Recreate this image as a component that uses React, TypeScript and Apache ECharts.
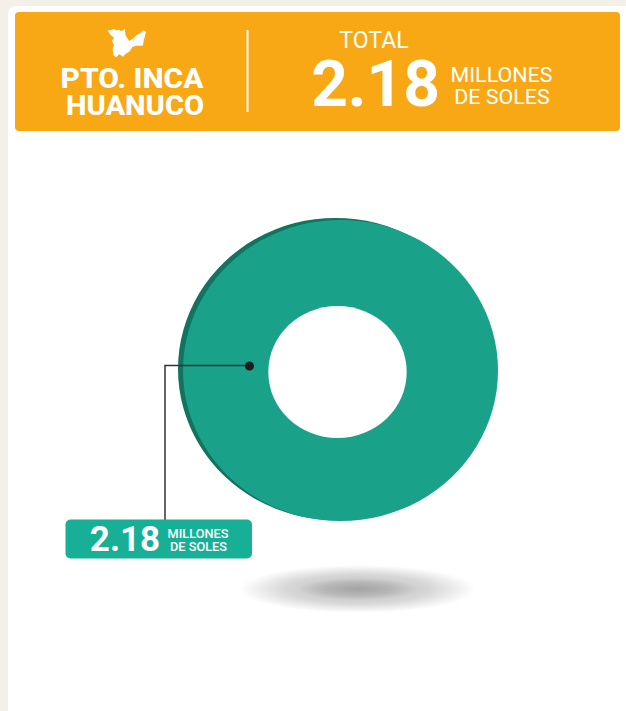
import React, { useEffect, useRef } from "react";
import * as echarts from "echarts";

const regionLines = ["PTO. INCA", "HUANUCO"];
const totalLabel = "TOTAL";
const unitLines = ["MILLONES", "DE SOLES"];
const sliceNames = ["Total"];
const sliceValues = [2.18];
const sliceColors = ["#1aa189"];
const sliceEdgeColors = ["#12735f"];

const FONT = "Roboto, sans-serif";

function label(text: string, x: number, y: number, size: number, weight: number, sx = 1, align = "center") {
  return {
    type: "text",
    x,
    y,
    scaleX: sx,
    z: 20,
    style: {
      text,
      x: 0,
      y: 0,
      fill: "#ffffff",
      textAlign: align,
      textVerticalAlign: "middle",
      font: `${weight} ${size}px ${FONT}`,
    },
  };
}

const mapIcon = [
  [52,46],[62,46],[70,42],[80,46],[88,44],[92,48],[100,46],[104,40],[107,62],[118,78],[132,68],[140,60],[150,55],
  [160,46],[168,50],[163,70],[158,92],[140,92],[128,95],[118,110],[105,118],[100,125],[88,118],[78,127],
  [70,120],[68,100],[72,90],[66,78],[72,68],[62,60],
].map(([a, b]) => [90 + a / 3, 15 + b / 3]);

export default function App() {
  const ref = useRef<HTMLDivElement>(null);
  useEffect(() => {
    const chart = echarts.init(ref.current!, null, { renderer: "svg" });
    const total = sliceValues.reduce((s, v) => s + v, 0);
    const renderItem = (params: any, api: any) => {
      const v = api.value(0) as number;
      const end = (v / total) * Math.PI * 2;
      return {
        type: "group",
        children: [
          {
            type: "sector",
            x: 335.5,
            y: 369,
            scaleY: 151 / 157.5,
            shape: { cx: 0, cy: 0, r: 157.5, r0: 0, startAngle: 0, endAngle: end },
            style: { fill: sliceEdgeColors[params.dataIndex] },
          },
          {
            type: "sector",
            x: 340.5,
            y: 370.5,
            scaleY: 150.5 / 157.5,
            shape: { cx: 0, cy: 0, r: 157.5, r0: 0, startAngle: 0, endAngle: end },
            style: { fill: sliceColors[params.dataIndex] },
          },
          {
            type: "ellipse",
            shape: { cx: 337.5, cy: 372, rx: 69.2, ry: 66 },
            style: { fill: "#ffffff" },
          },
        ],
      };
    };
    const shadow = (rx: number, ry: number, a: number) => ({
      type: "ellipse",
      shape: { cx: 358, cy: 589, rx, ry },
      z: 1,
      style: {
        fill: new echarts.graphic.RadialGradient(0.5, 0.5, 0.5, [
          { offset: 0, color: `rgba(120,120,120,${a})` },
          { offset: 0.6, color: `rgba(120,120,120,${a * 0.6})` },
          { offset: 1, color: "rgba(120,120,120,0)" },
        ]),
      },
    });
    chart.setOption({
      animation: false,
      backgroundColor: "#f3f1e7",
      series: [
        {
          type: "custom",
          coordinateSystem: "none",
          renderItem,
          z: 5,
          data: sliceValues.map((v, i) => ({ name: sliceNames[i], value: [v] })),
        },
      ],
      graphic: [
        { type: "rect", z: 0, shape: { x: 8, y: 6, width: 640, height: 740, r: 8 }, style: { fill: "#ffffff" } },
        { type: "rect", z: 1, shape: { x: 15, y: 12, width: 605, height: 119, r: 4 }, style: { fill: "#f9a815" } },
        { type: "polygon", z: 20, shape: { points: mapIcon }, style: { fill: "#ffffff" } },
        label(regionLines[0], 132, 78, 28, 800, 1.07),
        label(regionLines[1], 135, 106, 28, 800, 1.04),
        { type: "line", z: 20, shape: { x1: 247.5, y1: 30, x2: 247.5, y2: 112 }, style: { stroke: "#ffffff", lineWidth: 2 } },
        label(totalLabel, 374, 40, 24, 400, 0.96),
        label(String(sliceValues[0]), 375.5, 84, 64, 700),
        label(unitLines[0], 501.5, 75, 21, 400, 1.02),
        label(unitLines[1], 502, 97, 21, 400, 1.02),
        shadow(118, 24, 0.5),
        shadow(60, 11, 0.35),
        {
          type: "polyline",
          z: 20,
          shape: { points: [[165, 520], [165, 365.5], [249, 365.5]] },
          style: { stroke: "#333333", lineWidth: 1.5, fill: "none" },
        },
        { type: "circle", z: 21, shape: { cx: 249.5, cy: 366, r: 4.5 }, style: { fill: "#1c1c1c" } },
        { type: "rect", z: 20, shape: { x: 65.5, y: 519.5, width: 186.5, height: 39, r: 5 }, style: { fill: "#17b096" } },
        label(String(sliceValues[0]), 125, 539.5, 35, 700),
        label(unitLines[0], 198, 533.5, 13, 500, 0.98),
        label(unitLines[1], 198.5, 546.5, 13, 500, 0.98),
      ],
    });
    return () => chart.dispose();
  }, []);
  return <div ref={ref} style={{ position: "fixed", left: 0, top: 0, width: 626, height: 711 }} />;
}
